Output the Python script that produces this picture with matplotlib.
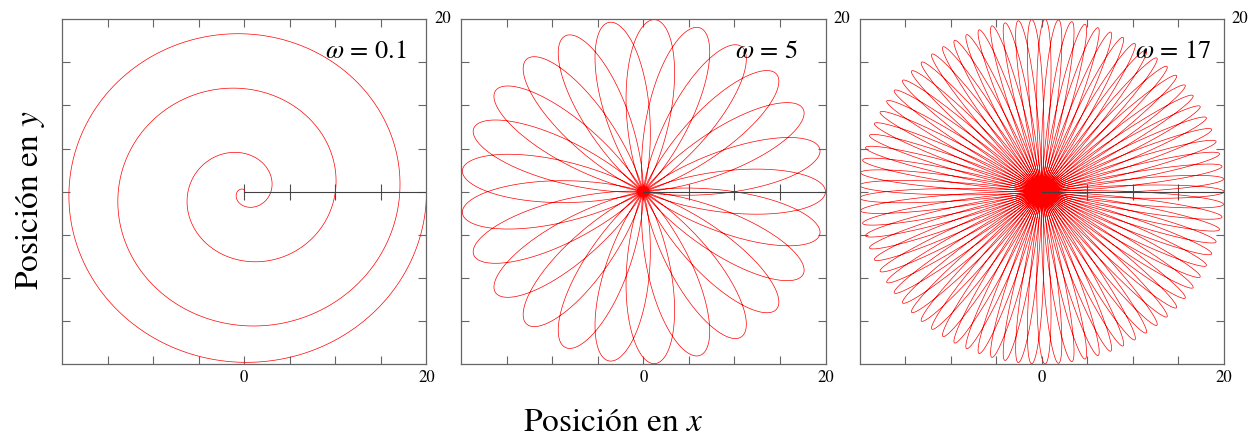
import numpy as np
import matplotlib
matplotlib.use('Agg')
import matplotlib.pyplot as plt

plt.rcParams['font.family'] = 'STIXGeneral'
plt.rcParams['mathtext.fontset'] = 'stix'

# frecuencias de cada panel
omegas = [0.1, 5, 17]
omega_labels = [r'$\omega$ = 0.1', r'$\omega$ = 5', r'$\omega$ = 17']
label_x = [0.945, 0.925, 0.966]

# amplitud radial, giro del sistema y tiempo total
R = 20.0
spin = 0.8
t_end = 10 * np.pi

lims = [-20, 20]
frame_ticks = [-15, -10, -5, 0, 5, 10, 15]
radial_ticks = [0, 5, 10, 15]

fig = plt.figure(figsize=(12.52, 4.38), dpi=100)

lefts = [62 / 1252, 461 / 1252, 859.5 / 1252]
bottom = 1 - 364 / 438
width = 364.5 / 1252
height = (364 - 19.3) / 438

t = np.linspace(0, t_end, 60000)

for i, w in enumerate(omegas):
    ax = fig.add_axes([lefts[i], bottom, width, height])
    r = R / 2 * (1 - np.cos(w * t))
    th = spin * t
    ax.plot(r * np.cos(th), r * np.sin(th), color='red', lw=0.5, zorder=2)

    # eje radial con sus marcas
    ax.plot([0, R], [0, 0], color='0.25', lw=0.8, zorder=3)
    ax.plot(radial_ticks, np.zeros(len(radial_ticks)), ls='none', marker='|',
            ms=11.5, mew=0.8, color='0.3', zorder=1)

    ax.set_xlim(lims)
    ax.set_ylim(lims)
    ax.set_xticks(frame_ticks)
    ax.set_yticks(frame_ticks)
    ax.set_xticklabels([])
    ax.set_yticklabels([])
    ax.tick_params(direction='in', length=5.8, width=0.8, color='0.4',
                   top=True, right=True)
    for s in ax.spines.values():
        s.set_color('0.4')
        s.set_linewidth(0.9)

    ax.text(label_x[i], 0.905, omega_labels[i], transform=ax.transAxes,
            ha='right', va='center', fontsize=19)

    ax.annotate('0', xy=(0, -20), xytext=(0, -13.5), textcoords='offset pixels',
                ha='center', va='center', fontsize=12, annotation_clip=False)
    ax.annotate('20', xy=(20, -20), xytext=(0, -13.5), textcoords='offset pixels',
                ha='center', va='center', fontsize=12, annotation_clip=False)
    ax.annotate('20', xy=(20, 20), xytext=(16, 0), textcoords='offset pixels',
                ha='center', va='center', fontsize=12, annotation_clip=False)

fig.text(613 / 1252, 1 - 431 / 438, r'Posición en $x$', ha='center',
         va='baseline', fontsize=24)
fig.text(31 / 1252, 1 - 200 / 438, r'Posición en $y$', ha='center',
         va='center', rotation=90, fontsize=24)

fig.savefig('out.png', dpi=100)
